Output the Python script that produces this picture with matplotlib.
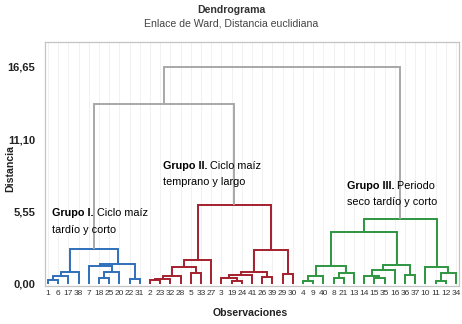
import matplotlib
matplotlib.use("Agg")
import matplotlib.pyplot as plt

plt.rcParams["font.family"] = ["Liberation Sans", "DejaVu Sans"]

# merges written as (left, right, height); ints are observation numbers
grupo_1 = ((((1, 6, 0.25), 17, 0.55), 38, 0.90),
           ((7, ((18, 25, 0.40), 20, 0.90), 1.35), (22, 31, 0.32), 1.48),
           2.63)
grupo_2 = (((((2, 23, 0.27), 32, 0.35), 28, 0.60), (5, 33, 0.78), 1.30), 27, 1.80)
grupo_2 = (grupo_2,
           ((((3, (19, 24, 0.22), 0.40), 41, 0.65), (26, 39, 0.47), 0.90), (29, 30, 0.73), 2.57),
           6.00)
grupo_3 = (((((4, 9, 0.19), 40, 0.58), ((8, 21, 0.40), 13, 0.83), 1.34),
            (((14, (15, 35, 0.45), 0.55), 16, 1.04), (36, 37, 0.65), 1.42), 3.98),
           (10, ((11, 12, 0.19), 34, 0.78), 1.29),
           4.95)
arbol = ((grupo_1, grupo_2, 13.76), grupo_3, 16.65)

colores = {id(grupo_1): "#2f6fba", id(grupo_2): "#a3202d", id(grupo_3): "#2d9640"}
gris = "#a8a8a8"

y_ticks = [0.0, 5.55, 11.10, 16.65]
y_labels = ["0,00", "5,55", "11,10", "16,65"]

grupos = [
    ("Grupo I.", " Ciclo maíz", "tardío y corto", 0.39, 5.41, 4.11),
    ("Grupo II.", " Ciclo maíz", "temprano y largo", 11.27, 9.02, 7.80),
    ("Grupo III.", " Periodo", "seco tardío y corto", 29.31, 7.49, 6.26),
]

fig = plt.figure(figsize=(4.62, 3.24), dpi=100)
ax = fig.add_axes([45 / 462, 1 - 286 / 324, 414 / 462, 244 / 324])

orden = []


def dibujar(nodo, color):
    if isinstance(nodo, int):
        orden.append(nodo)
        return len(orden) - 1, 0.0
    c = colores.get(id(nodo), color)
    izq, der, h = nodo
    x1, h1 = dibujar(izq, c)
    x2, h2 = dibujar(der, c)
    ax.plot([x1, x1, x2, x2], [h1, h, h, h2], color=c, lw=1.4,
            solid_capstyle="butt", solid_joinstyle="miter", zorder=3)
    return (x1 + x2) / 2, h


dibujar(arbol, gris)

ax.set_xlim(-0.3, len(orden) - 0.7)
ax.set_ylim(-0.19, 18.55)
ax.set_xticks(range(len(orden)))
ax.set_xticklabels([str(o) for o in orden], fontsize=6, color="#333333")
ax.set_yticks(y_ticks)
ax.set_yticklabels(y_labels, fontsize=8, fontweight="bold", color="#222222")
ax.tick_params(axis="both", length=0)
ax.tick_params(axis="x", pad=3)
ax.tick_params(axis="y", pad=7)
ax.grid(axis="x", color="#f1f1f1", lw=0.7, zorder=0)
for s in ax.spines.values():
    s.set_color("#c4c4c4")
    s.set_linewidth(0.9)

for bold, resto, linea2, x, y1, y2 in grupos:
    t = ax.text(x, y1, bold, fontsize=7.8, fontweight="bold", va="center", ha="left", zorder=4)
    ax.annotate(resto, xy=(1, 0.5), xycoords=t, fontsize=7.8, va="center", ha="left")
    ax.text(x, y2, linea2, fontsize=7.8, va="center", ha="left", zorder=4)

fig.text(0.5, 1 - 10 / 324, "Dendrograma", ha="center", va="center",
         fontsize=7.6, fontweight="bold", color="#333333")
fig.text(0.5, 1 - 23.5 / 324, "Enlace de Ward, Distancia euclidiana", ha="center",
         va="center", fontsize=7.6, color="#444444")
fig.text(250 / 462, 1 - 312.5 / 324, "Observaciones", ha="center", va="center",
         fontsize=7.6, fontweight="bold", color="#222222")
fig.text(10 / 462, 1 - 168 / 324, "Distancia", ha="center", va="center",
         rotation=90, fontsize=7.6, fontweight="bold", color="#222222")

fig.savefig("out.png", dpi=100)
